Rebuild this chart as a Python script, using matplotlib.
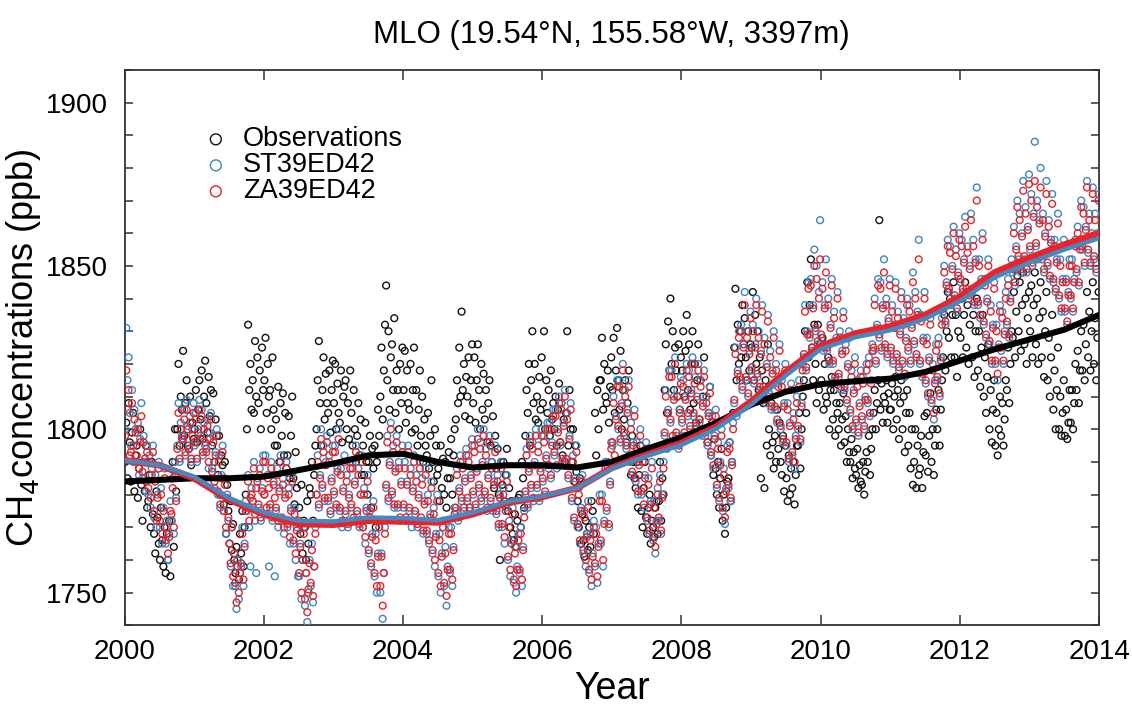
import numpy as np
import matplotlib.pyplot as plt
from matplotlib.ticker import MultipleLocator

plt.rcParams['font.family'] = ['Liberation Sans', 'DejaVu Sans']

# daily-ish CH4 readings (ppb), five per month, one string per year 2000..2013
obs_ppb = [
    """1790 1802 1785 1808 1796  1784 1799 1805 1781 1792  1795 1779 1788 1800 1783
       1772 1790 1781 1795 1776  1778 1786 1770 1790 1774  1768 1762 1781 1773 1765
       1760 1776 1766 1758 1770  1756 1768 1760 1772 1755  1772 1790 1764 1800 1781
       1800 1820 1795 1810 1806  1824 1798 1808 1815 1795  1794 1810 1789 1802 1797""",
    """1800 1812 1796 1806 1815  1803 1818 1797 1810 1821  1808 1799 1816 1804 1812
       1795 1811 1790 1803 1798  1786 1798 1780 1792 1789  1777 1790 1768 1783 1775
       1765 1778 1763 1771 1760  1756 1764 1760 1754 1768  1762 1775 1758 1770 1780
       1800 1832 1812 1820 1806  1815 1805 1827 1810 1822  1808 1818 1800 1825 1812""",
    """1815 1828 1805 1820 1810  1812 1800 1822 1806 1795  1803 1795 1813 1790 1808
       1798 1811 1792 1805 1788  1792 1804 1785 1798 1810  1785 1777 1793 1782 1772
       1776 1768 1783 1762 1772  1770 1760 1778 1765 1782  1780 1790 1772 1786 1795
       1800 1815 1827 1808 1795  1812 1822 1803 1817 1808  1805 1818 1799 1812 1821""",
    """1808 1820 1800 1814 1805  1802 1818 1796 1810 1813  1815 1800 1808 1797 1818
       1805 1795 1812 1800 1790  1798 1808 1792 1803 1786  1795 1786 1802 1790 1780
       1790 1798 1776 1794 1788  1795 1770 1790 1806 1798  1810 1825 1803 1818 1832
       1844 1815 1830 1806 1822  1826 1812 1834 1805 1818  1812 1800 1820 1808 1825""",
    """1812 1824 1802 1818 1808  1806 1820 1799 1812 1825  1800 1812 1795 1806 1818
       1798 1810 1790 1803 1795  1792 1805 1788 1798 1815  1790 1784 1800 1795 1786
       1788 1778 1795 1782 1791  1780 1790 1776 1785 1793  1785 1797 1780 1792 1800
       1803 1815 1808 1825 1810  1836 1812 1820 1804 1816  1810 1822 1803 1815 1826""",
    """1808 1822 1802 1815 1826  1812 1800 1820 1806 1817  1803 1812 1796 1808 1815
       1795 1790 1804 1782 1798  1788 1794 1780 1760 1790  1783 1790 1778 1786 1794
       1775 1782 1770 1778 1768  1766 1774 1764 1772 1779  1780 1770 1790 1785 1776
       1798 1812 1805 1820 1795  1815 1830 1808 1820 1803  1810 1802 1816 1806 1822""",
    """1808 1830 1800 1815 1805  1812 1798 1818 1803 1808  1800 1810 1795 1806 1814
       1796 1808 1792 1803 1790  1805 1830 1795 1812 1800  1790 1800 1784 1795 1787
       1778 1770 1785 1765 1774  1766 1761 1772 1768 1763  1770 1764 1778 1775 1768
       1805 1792 1812 1800 1815  1815 1828 1806 1820 1810  1808 1818 1802 1813 1822""",
    """1812 1828 1805 1818 1831  1815 1806 1824 1800 1812  1803 1815 1796 1808 1818
       1792 1786 1798 1790 1785  1782 1790 1776 1786 1795  1775 1770 1782 1790 1773
       1768 1776 1780 1765 1772  1770 1767 1776 1778 1768  1778 1790 1772 1785 1780
       1812 1826 1805 1833 1818  1840 1820 1830 1812 1825  1818 1810 1826 1806 1822""",
    """1818 1830 1810 1824 1835  1812 1826 1806 1820 1830  1808 1820 1802 1815 1826
       1803 1815 1800 1810 1822  1800 1810 1796 1805 1813  1792 1802 1786 1797 1788
       1780 1790 1776 1785 1794  1772 1780 1768 1776 1784  1785 1796 1778 1790 1805
       1825 1843 1815 1832 1820  1830 1822 1838 1826 1834  1822 1815 1830 1818 1826""",
    """1825 1842 1815 1835 1820  1830 1812 1822 1785 1818  1808 1782 1815 1795 1826
       1800 1792 1808 1796 1788  1798 1790 1806 1794 1802  1790 1786 1798 1781 1795
       1785 1778 1792 1780 1788  1782 1790 1777 1786 1795  1795 1805 1788 1800 1810
       1815 1830 1805 1845 1822  1838 1852 1825 1815 1832  1820 1808 1832 1812 1826""",
    """1815 1828 1806 1820 1810  1808 1822 1800 1812 1816  1803 1812 1798 1808 1805
       1800 1808 1795 1803 1811  1796 1804 1790 1800 1793  1790 1797 1785 1793 1788
       1786 1794 1782 1789 1784  1783 1790 1780 1787 1793  1790 1798 1786 1794 1800
       1805 1812 1800 1808 1815  1864 1806 1814 1802 1810  1808 1815 1802 1811 1806""",
    """1806 1814 1800 1810 1816  1803 1812 1797 1808 1815  1800 1810 1793 1805 1812
       1795 1805 1788 1800 1783  1790 1800 1782 1795 1786  1788 1798 1782 1793 1804
       1792 1805 1787 1798 1811  1790 1800 1786 1795 1806  1800 1812 1795 1806 1815
       1822 1835 1818 1830 1842  1828 1840 1822 1835 1845  1822 1835 1816 1830 1840""",
    """1828 1840 1822 1835 1845  1825 1838 1820 1832 1842  1822 1835 1816 1830 1840
       1818 1830 1813 1825 1835  1810 1822 1805 1816 1826  1800 1812 1796 1806 1815
       1795 1805 1792 1800 1810  1798 1808 1795 1803 1815  1812 1825 1808 1820 1830
       1828 1842 1822 1836 1847  1830 1845 1824 1838 1848  1826 1840 1820 1834 1842""",
    """1830 1844 1822 1838 1848  1826 1840 1820 1834 1845  1822 1836 1816 1830 1842
       1815 1828 1810 1822 1835  1806 1818 1800 1812 1825  1800 1810 1798 1805 1815
       1798 1806 1797 1802 1812  1802 1812 1800 1808 1820  1812 1824 1808 1818 1830
       1818 1832 1815 1826 1842  1822 1836 1818 1830 1845  1820 1834 1815 1828 1842""",
]

st_ppb = [
    """1800 1831 1815 1822 1805  1795 1812 1790 1806 1800  1790 1802 1786 1797 1808
       1785 1798 1790 1781 1795  1780 1792 1776 1788 1795  1773 1786 1770 1780 1790
       1770 1782 1765 1776 1788  1765 1772 1760 1768 1778  1772 1785 1768 1790 1779
       1795 1808 1790 1802 1798  1798 1806 1792 1809 1801  1795 1804 1790 1800 1808""",
    """1795 1805 1790 1800 1809  1798 1806 1792 1802 1795  1794 1803 1788 1799 1805
       1788 1798 1782 1793 1800  1780 1792 1776 1786 1795  1775 1785 1768 1780 1772
       1765 1758 1770 1752 1762  1752 1745 1760 1748 1756  1758 1770 1752 1765 1778
       1775 1786 1770 1758 1782  1778 1790 1772 1756 1785  1776 1788 1772 1782 1792""",
    """1780 1792 1774 1786 1758  1776 1790 1772 1784 1755  1775 1788 1770 1782 1792
       1772 1785 1768 1780 1790  1770 1782 1765 1776 1786  1765 1776 1760 1770 1755
       1755 1765 1748 1760 1770  1746 1756 1741 1750 1760  1752 1765 1747 1758 1770
       1780 1792 1776 1786 1800  1782 1795 1778 1790 1798  1778 1792 1774 1785 1795""",
    """1780 1795 1776 1788 1800  1775 1788 1770 1782 1792  1774 1786 1770 1780 1790
       1776 1790 1772 1784 1795  1774 1788 1770 1780 1792  1770 1782 1765 1776 1786
       1762 1775 1758 1768 1778  1755 1768 1750 1762 1772  1750 1762 1742 1756 1770
       1782 1798 1778 1790 1802  1780 1795 1776 1788 1798  1776 1790 1772 1784 1795""",
    """1776 1790 1772 1784 1795  1775 1788 1770 1782 1792  1774 1786 1770 1780 1790
       1772 1785 1768 1778 1788  1768 1780 1765 1774 1784  1762 1776 1758 1768 1780
       1755 1768 1750 1762 1772  1752 1764 1746 1758 1770  1756 1770 1752 1764 1776
       1775 1788 1772 1782 1792  1778 1790 1775 1785 1794  1778 1792 1775 1786 1797""",
    """1780 1795 1776 1788 1800  1782 1796 1778 1790 1800  1780 1794 1775 1786 1798
       1778 1790 1775 1784 1795  1774 1786 1770 1780 1790  1770 1782 1765 1776 1786
       1760 1772 1755 1766 1776  1753 1764 1750 1758 1768  1756 1770 1752 1764 1775
       1780 1794 1776 1788 1798  1782 1796 1778 1790 1800  1782 1795 1778 1788 1800""",
    """1784 1798 1780 1792 1802  1788 1802 1785 1796 1806  1792 1806 1788 1800 1810
       1795 1808 1790 1802 1812  1790 1805 1785 1798 1808  1778 1792 1772 1785 1795
       1770 1782 1765 1776 1786  1762 1775 1758 1768 1778  1756 1768 1752 1762 1772
       1758 1770 1753 1765 1780  1765 1780 1758 1772 1790  1775 1790 1770 1784 1796""",
    """1795 1810 1790 1804 1815  1800 1815 1796 1808 1820  1798 1812 1794 1806 1815
       1790 1802 1786 1796 1806  1784 1796 1780 1790 1800  1780 1792 1776 1786 1796
       1772 1785 1768 1778 1790  1766 1778 1762 1772 1782  1772 1786 1768 1780 1790
       1798 1812 1794 1806 1818  1802 1818 1796 1810 1822  1798 1812 1794 1806 1816""",
    """1802 1815 1798 1810 1820  1804 1818 1800 1812 1822  1804 1816 1800 1810 1820
       1802 1815 1798 1808 1818  1798 1810 1795 1805 1813  1792 1804 1788 1798 1806
       1782 1796 1778 1790 1800  1775 1788 1771 1782 1795  1782 1796 1778 1790 1802
       1808 1825 1804 1818 1830  1815 1832 1812 1826 1842  1815 1830 1810 1824 1836""",
    """1818 1832 1814 1826 1840  1816 1830 1812 1824 1838  1812 1828 1808 1820 1835
       1810 1824 1806 1818 1830  1806 1820 1802 1814 1826  1800 1815 1796 1808 1820
       1795 1808 1790 1802 1814  1792 1805 1788 1798 1810  1800 1815 1796 1808 1820
       1822 1838 1818 1830 1845  1828 1846 1824 1838 1855  1830 1850 1826 1842 1864""",
    """1828 1845 1824 1838 1852  1824 1840 1820 1832 1846  1820 1836 1815 1828 1842
       1816 1830 1812 1824 1836  1812 1826 1808 1820 1830  1805 1818 1800 1812 1822
       1802 1815 1798 1808 1818  1803 1816 1800 1810 1820  1808 1822 1804 1815 1826
       1824 1840 1820 1832 1846  1828 1845 1824 1838 1852  1825 1840 1822 1834 1846""",
    """1824 1838 1820 1832 1845  1822 1836 1818 1830 1842  1820 1834 1816 1828 1840
       1824 1838 1820 1832 1848  1826 1842 1822 1836 1858  1820 1835 1816 1828 1842
       1814 1828 1810 1822 1834  1808 1820 1803 1815 1826  1815 1828 1810 1822 1834
       1836 1850 1832 1845 1858  1842 1856 1838 1850 1862  1840 1855 1836 1848 1860""",
    """1845 1858 1842 1852 1865  1842 1856 1840 1850 1866  1842 1858 1838 1852 1874
       1838 1852 1834 1846 1860  1832 1846 1828 1840 1852  1826 1838 1820 1832 1845
       1820 1832 1815 1826 1838  1824 1836 1820 1830 1842  1832 1846 1828 1840 1852
       1848 1862 1844 1856 1870  1852 1866 1848 1860 1876  1852 1868 1848 1862 1878""",
    """1855 1872 1850 1866 1888  1856 1870 1852 1864 1880  1852 1866 1848 1860 1876
       1850 1864 1846 1858 1872  1845 1858 1842 1852 1866  1840 1852 1836 1846 1858
       1836 1846 1832 1842 1852  1840 1852 1836 1846 1858  1848 1862 1844 1856 1870
       1855 1868 1850 1862 1876  1854 1866 1850 1860 1874  1852 1866 1848 1860 1872""",
]

za_ppb = [
    """1798 1818 1806 1812 1792  1793 1808 1795 1803 1799  1792 1800 1788 1796 1804
       1787 1796 1791 1784 1793  1782 1790 1779 1786 1793  1775 1784 1772 1779 1788
       1772 1780 1768 1775 1785  1766 1770 1762 1767 1775  1774 1782 1770 1786 1778
       1794 1805 1791 1800 1797  1797 1803 1793 1806 1800  1794 1802 1791 1798 1805""",
    """1796 1803 1791 1799 1806  1797 1804 1793 1800 1796  1793 1801 1790 1797 1803
       1787 1796 1784 1792 1798  1781 1790 1777 1785 1793  1775 1783 1770 1779 1773
       1765 1759 1770 1755 1762  1753 1747 1758 1750 1756  1759 1768 1754 1764 1775
       1776 1784 1772 1779 1780  1778 1788 1774 1782 1784  1777 1786 1773 1781 1790""",
    """1780 1790 1776 1785 1782  1777 1788 1773 1783 1779  1776 1786 1772 1781 1790
       1773 1783 1770 1779 1788  1771 1780 1767 1775 1784  1766 1774 1762 1769 1772
       1756 1764 1750 1760 1768  1748 1756 1744 1751 1759  1753 1763 1749 1758 1768
       1780 1790 1777 1785 1797  1783 1793 1779 1789 1796  1779 1790 1775 1784 1793""",
    """1781 1793 1777 1787 1797  1776 1786 1772 1781 1790  1775 1784 1771 1779 1788
       1777 1788 1773 1783 1793  1775 1786 1771 1780 1790  1770 1780 1767 1775 1784
       1763 1773 1759 1767 1776  1756 1766 1752 1761 1770  1752 1761 1746 1756 1768
       1783 1796 1779 1789 1800  1781 1793 1777 1787 1796  1777 1788 1773 1783 1793""",
    """1777 1788 1773 1783 1793  1776 1786 1772 1781 1790  1775 1784 1771 1779 1788
       1773 1783 1769 1777 1786  1769 1778 1766 1773 1782  1763 1774 1760 1767 1778
       1756 1766 1752 1761 1770  1753 1762 1749 1757 1768  1757 1768 1754 1763 1774
       1776 1786 1773 1781 1790  1779 1788 1776 1784 1792  1779 1790 1776 1785 1795""",
    """1781 1793 1777 1787 1797  1783 1794 1779 1789 1798  1781 1792 1776 1785 1796
       1779 1788 1776 1783 1793  1775 1784 1771 1779 1788  1771 1780 1767 1775 1784
       1761 1770 1757 1765 1774  1754 1762 1752 1757 1766  1757 1768 1754 1763 1773
       1781 1792 1777 1787 1796  1783 1794 1779 1789 1798  1783 1793 1779 1787 1798""",
    """1785 1796 1781 1791 1800  1789 1800 1786 1795 1804  1793 1804 1789 1799 1808
       1796 1806 1791 1801 1810  1791 1803 1786 1797 1806  1779 1790 1773 1784 1793
       1771 1780 1766 1775 1784  1763 1773 1760 1767 1776  1757 1766 1754 1761 1770
       1759 1768 1755 1764 1778  1766 1778 1760 1771 1788  1776 1788 1771 1783 1794""",
    """1796 1808 1792 1803 1813  1801 1813 1797 1807 1818  1799 1810 1795 1805 1813
       1791 1800 1787 1795 1804  1785 1794 1781 1789 1798  1781 1790 1777 1785 1794
       1773 1783 1769 1777 1788  1767 1776 1764 1771 1780  1773 1784 1769 1779 1788
       1799 1810 1795 1805 1816  1803 1816 1798 1809 1820  1799 1810 1795 1805 1814""",
    """1803 1813 1799 1809 1818  1805 1816 1801 1811 1820  1805 1814 1801 1809 1818
       1803 1813 1799 1807 1816  1799 1808 1796 1804 1811  1793 1802 1789 1797 1804
       1783 1794 1779 1789 1798  1776 1786 1773 1781 1793  1783 1794 1779 1789 1800
       1809 1823 1805 1817 1828  1816 1830 1813 1825 1838  1816 1828 1811 1823 1834""",
    """1819 1830 1815 1825 1838  1817 1828 1813 1823 1836  1813 1826 1809 1819 1833
       1811 1822 1807 1817 1828  1807 1818 1803 1813 1824  1801 1813 1797 1807 1818
       1796 1806 1791 1801 1812  1793 1803 1790 1797 1808  1801 1813 1797 1807 1818
       1823 1836 1819 1829 1843  1829 1844 1825 1837 1850  1831 1846 1827 1840 1852""",
    """1829 1843 1825 1837 1848  1825 1838 1821 1831 1844  1821 1834 1816 1827 1840
       1817 1828 1813 1823 1834  1813 1824 1809 1819 1828  1806 1816 1801 1811 1820
       1803 1813 1799 1807 1816  1804 1814 1801 1809 1818  1809 1820 1805 1814 1824
       1825 1838 1821 1831 1844  1829 1843 1825 1837 1848  1826 1838 1823 1833 1844""",
    """1825 1836 1821 1831 1843  1823 1834 1819 1829 1840  1821 1832 1817 1827 1838
       1825 1836 1821 1831 1845  1827 1840 1823 1835 1852  1821 1833 1817 1827 1840
       1815 1826 1811 1821 1832  1809 1818 1805 1814 1824  1816 1826 1811 1821 1832
       1837 1848 1833 1844 1856  1843 1854 1839 1849 1860  1841 1853 1837 1847 1858""",
    """1846 1856 1843 1851 1862  1843 1854 1841 1849 1864  1843 1856 1839 1851 1870
       1839 1850 1835 1845 1858  1833 1844 1829 1839 1850  1827 1836 1821 1831 1843
       1821 1830 1817 1825 1836  1825 1834 1821 1829 1840  1833 1844 1829 1839 1850
       1849 1860 1845 1855 1868  1853 1864 1849 1859 1873  1853 1866 1849 1861 1875""",
    """1856 1870 1851 1865 1876  1857 1868 1853 1863 1874  1853 1864 1849 1859 1872
       1851 1862 1847 1857 1869  1846 1856 1843 1851 1863  1841 1850 1837 1845 1856
       1837 1845 1833 1841 1850  1841 1850 1837 1845 1856  1849 1860 1845 1855 1868
       1856 1866 1851 1861 1874  1855 1864 1851 1859 1872  1853 1864 1849 1859 1870""",
]

# smoothed curves, read every half year from 2000.0 to 2014.0
trend_years = [2000 + 0.5 * i for i in range(29)]
obs_trend = [1784, 1784.5, 1785, 1785, 1785.5, 1787.5, 1789.5, 1792, 1792.5, 1790,
             1788.3, 1789, 1789, 1788.3, 1790, 1794, 1797.5, 1802, 1807.5, 1811.5,
             1813.8, 1814.7, 1815.5, 1817.5, 1821, 1824.5, 1827.5, 1830.5, 1835]
st_trend = [1790.5, 1789, 1785.5, 1779, 1774.5, 1772, 1771.8, 1773, 1772.8, 1772.2,
            1774.5, 1777.8, 1779.5, 1782, 1788, 1791.8, 1795.2, 1800.2, 1807.5, 1816.5,
            1824.5, 1828.2, 1830.3, 1833.8, 1839.2, 1846.5, 1851, 1855, 1858.5]
za_trend = [1790.5, 1789, 1785, 1778.5, 1774, 1771, 1770.8, 1772, 1771.8, 1771.5,
            1774, 1777.5, 1779.3, 1782, 1788.2, 1792.2, 1795.8, 1800.8, 1808.5, 1817.5,
            1825.5, 1829.3, 1831.5, 1835, 1840.5, 1848, 1852.5, 1856.5, 1860]


def to_series(blocks):
    vals = np.array(" ".join(blocks).split(), dtype=float)
    t = 2000 + (np.arange(len(vals)) + 0.5) / 60.0
    return t, vals


fig = plt.figure(figsize=(11.32, 7.13), dpi=100)
ax = fig.add_axes([0.110, 0.123, 0.861, 0.779])

t, v = to_series(obs_ppb)
h_obs = ax.scatter(t, v, s=24, facecolors="none", edgecolors="#111111", linewidths=1.0, zorder=2)
t, v = to_series(st_ppb)
h_st = ax.scatter(t, v, s=24, facecolors="none", edgecolors="#3f84bd", linewidths=1.0, zorder=3)
t, v = to_series(za_ppb)
h_za = ax.scatter(t, v, s=24, facecolors="none", edgecolors="#e3232a", linewidths=1.0, zorder=4)

ax.plot(trend_years, obs_trend, color="black", lw=4.4, zorder=5, solid_joinstyle="round")
ax.plot(trend_years, za_trend, color="#e8242b", lw=4.8, zorder=6, solid_joinstyle="round")
ax.plot(trend_years, st_trend, color="#4a86c0", lw=3.2, zorder=6, solid_joinstyle="round")

ax.set_xlim(2000, 2014)
ax.set_ylim(1740, 1910)
ax.xaxis.set_major_locator(MultipleLocator(2))
ax.yaxis.set_major_locator(MultipleLocator(50))
ax.yaxis.set_minor_locator(MultipleLocator(10))
ax.tick_params(axis="both", which="both", direction="in", top=True, right=True,
               width=1.1, color="#333333")
ax.tick_params(axis="x", which="major", length=7, labelsize=20, pad=10)
ax.tick_params(axis="y", which="major", length=6, labelsize=20, pad=12)
ax.tick_params(axis="y", which="minor", length=6)
for sp in ax.spines.values():
    sp.set_linewidth(1.3)
    sp.set_color("#333333")

ax.set_xlabel("Year", fontsize=27, labelpad=4)
ax.set_ylabel("CH$_4$concentrations (ppb)", fontsize=26, labelpad=2)
ax.set_title("MLO (19.54°N, 155.58°W, 3397m)", fontsize=22.5, pad=19)

leg = ax.legend([h_obs, h_st, h_za], ["Observations", "ST39ED42", "ZA39ED42"],
                loc="upper left", bbox_to_anchor=(0.052, 0.942), frameon=False,
                fontsize=19.5, markerscale=1.6, handletextpad=0.4, labelspacing=0.0,
                handlelength=1.2, scatterpoints=1)

fig.savefig("out.png", dpi=100)
